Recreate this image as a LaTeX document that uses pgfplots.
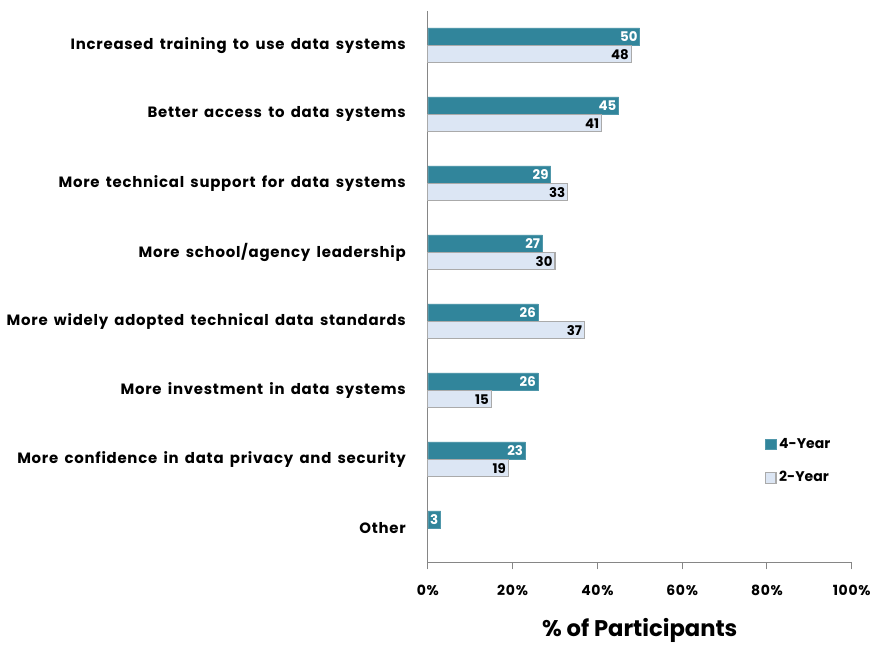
\documentclass[border=0pt]{standalone}
\usepackage{pgfplots}
\pgfplotsset{compat=1.18}
\usepackage{fontspec}
\setmainfont{Poppins}
\newfontfamily\catfont[LetterSpace=5, WordSpace=1.6]{Poppins}
\definecolor{teal4}{RGB}{49,133,155}
\definecolor{light2}{RGB}{220,230,244}
\definecolor{bord2}{RGB}{170,170,170}
\definecolor{axgray}{RGB}{134,134,134}
\begin{document}
\begin{tikzpicture}
\begin{axis}[
  scale only axis,
  width=318pt, height=414pt,
  xbar, bar width=12.75pt,
  y dir=reverse,
  xmin=0, xmax=100,
  ymin=-0.5, ymax=7.5,
  axis x line*=bottom, axis y line*=left,
  axis line style={axgray, line width=0.9pt},
  tick style={axgray, line width=0.9pt},
  tick align=outside,
  xtick={0,20,40,60,80,100},
  xticklabels={0\%,20\%,40\%,60\%,80\%,100\%},
  x tick label style={font=\catfont\bfseries\fontsize{10.5}{12}\selectfont, yshift=-8pt},
  major tick length=5pt,
  ytick={0,1,2,3,4,5,6,7},
  y tick style={draw=none},
  extra y ticks={-0.5,0.5,1.5,2.5,3.5,4.5,5.5,6.5,7.5},
  extra y tick labels={},
  extra y tick style={tick style={axgray, line width=0.9pt}, major tick length=5pt},
  yticklabels={Increased training to use data systems,Better access to data systems,More technical support for data systems,More school/agency leadership,More widely adopted technical data standards,More investment in data systems,More confidence in data privacy and security,Other},
  y tick label style={font=\catfont\bfseries\fontsize{11.2}{13}\selectfont, xshift=-8pt},
  xlabel={\% of Participants},
  xlabel style={font=\bfseries\fontsize{17}{20}\selectfont, yshift=-10pt},
  nodes near coords,
  /pgf/number format/assume math mode=true,
  every node near coord/.append style={anchor=east, font=\bfseries\fontsize{10}{11}\selectfont, inner sep=1.5pt},
  clip=false,
  legend style={at={(rel axis cs:0.785,0.236)}, anchor=north west, draw=none, fill=none,
    font=\bfseries\fontsize{10.5}{12}\selectfont, row sep=12pt},
  legend cell align=left,
  legend image code/.code={\draw[#1] (0pt,-4pt) rectangle (8pt,4pt);},
]
\addplot[fill=teal4, draw=teal4!85!white, bar shift=6.75pt,
  every node near coord/.append style={text=white}]
  coordinates {(50,0) (45,1) (29,2) (27,3) (26,4) (26,5) (23,6) (3,7)};
\addlegendentry{4-Year}
\addplot[fill=light2, draw=bord2, line width=0.8pt, bar shift=-6.75pt,
  every node near coord/.append style={text=black}]
  coordinates {(48,0) (41,1) (33,2) (30,3) (37,4) (15,5) (19,6)};
\addlegendentry{2-Year}
\path (rel axis cs:-1.0094,-0.1558) rectangle (rel axis cs:1.0542,1.0199);
\end{axis}
\end{tikzpicture}
\end{document}
